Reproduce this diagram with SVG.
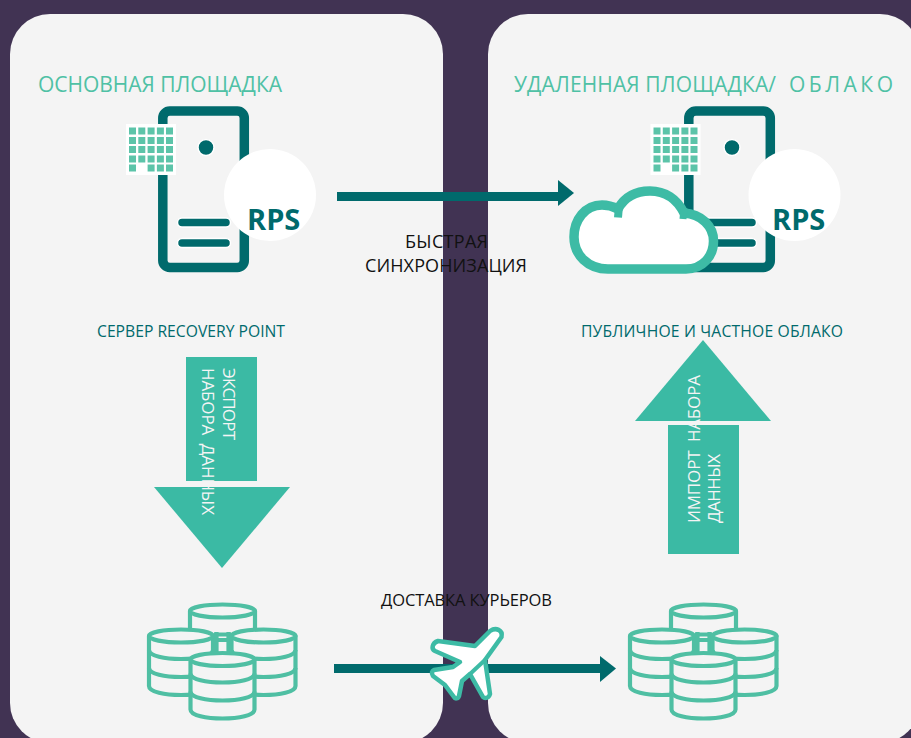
<svg xmlns="http://www.w3.org/2000/svg" width="911" height="738" viewBox="0 0 911 738">
<style>
text{font-family:"Open Sans","Noto Sans","Liberation Sans",sans-serif;white-space:pre}
.panel{fill:#f4f4f4}
.head{font-size:21px;fill:#4fc1a5}
.cap{font-size:15.7px;fill:#006a6c}
.lbl{font-size:18px;fill:#111}
.lbl2{font-size:16.5px;fill:#111}
.in{font-size:17px;fill:#f4f4f4}
.rps{font-size:29px;font-weight:700;fill:#006a6c}
.srv{fill:none;stroke:#006a6c;stroke-width:9.5}
.bar{fill:#006a6c;stroke:#fff;stroke-width:1.5}
.db{fill:#f4f4f4;stroke:#4fbfa3;stroke-width:4.2;stroke-linejoin:round}
.band{fill:none;stroke:#4fbfa3;stroke-width:4.2}
.grid{fill:#5cc4a9}
.big{fill:#3bbaa4}
.line{fill:none;stroke:#006a6c;stroke-width:9}
.head2{fill:#006a6c}
</style>
<defs>
<g id="server">
<rect class="srv" x="162.800" y="111" width="81.500" height="156.500" rx="7"/>
<circle cx="206" cy="147.500" r="8" fill="#006a6c" stroke="#fff" stroke-width="1.500"/>
<rect class="bar" x="177.500" y="218" width="53" height="9" rx="4.500"/>
<rect class="bar" x="177.500" y="238.500" width="53" height="9" rx="4.500"/>
</g>
<g id="badge">
<rect x="126" y="124" width="50" height="51" fill="#fff"/>
<g class="grid">
<rect x="129" y="127.500" width="7" height="7"/><rect x="138.300" y="127.500" width="7" height="7"/><rect x="147.600" y="127.500" width="7" height="7"/><rect x="156.900" y="127.500" width="7" height="7"/><rect x="166" y="127.500" width="7" height="7"/>
<rect x="129" y="137" width="7" height="7"/><rect x="138.300" y="137" width="7" height="7"/><rect x="147.600" y="137" width="7" height="7"/><rect x="156.900" y="137" width="7" height="7"/><rect x="166" y="137" width="7" height="7"/>
<rect x="129" y="146" width="7" height="7"/><rect x="138.300" y="146" width="7" height="7"/><rect x="147.600" y="146" width="7" height="7"/><rect x="156.900" y="146" width="7" height="7"/><rect x="166" y="146" width="7" height="7"/>
<rect x="129" y="155.500" width="7" height="7"/><rect x="138.300" y="155.500" width="7" height="7"/><rect x="147.600" y="155.500" width="7" height="7"/><rect x="156.900" y="155.500" width="7" height="7"/><rect x="166" y="155.500" width="7" height="7"/>
<rect x="129" y="164.500" width="7" height="7"/><rect x="147.600" y="164.500" width="7" height="7"/><rect x="156.900" y="164.500" width="7" height="7"/><rect x="166" y="164.500" width="7" height="7"/>
</g>
<circle cx="270" cy="195" r="46" fill="#fff"/>
</g>
<g id="cyl">
<path class="db" d="M-32 0V50C-32 56 -16 59 0 59S32 56 32 50V0Z"/>
<path class="band" d="M-32 14C-32 20 -16 23 0 23S32 20 32 14"/>
<path class="band" d="M-32 32C-32 38 -16 41 0 41S32 38 32 32"/>
<ellipse class="db" cx="0" cy="0" rx="32" ry="6.500"/>
</g>
<g id="dbs">
<path class="db" d="M190 611V640H255V611Z"/>
<ellipse class="db" cx="222.500" cy="611" rx="32.500" ry="6.500"/>
<path class="band" d="M216.500 632V654M228.500 632V654M214 634.500H231"/>
<use href="#cyl" x="181" y="636"/>
<use href="#cyl" x="263.500" y="636"/>
<use href="#cyl" x="222.500" y="659.500"/>
</g>
</defs>
<rect width="911" height="738" fill="#413353"/>
<g id="panels">
<rect class="panel" x="10" y="14" width="433" height="729" rx="40"/>
<rect class="panel" x="488" y="14" width="432" height="729" rx="40"/>
</g>
<g id="connectors">
<path class="line" d="M337 196.500H559"/>
<path class="head2" d="M558 180L574 193L558 206Z"/>
<path class="line" d="M334 668.500H601"/>
<path class="head2" d="M600 656L616 668.500L600 682Z"/>
</g>
<g id="site-main">
<text class="head" x="38" y="92" textLength="244">ОСНОВНАЯ ПЛОЩАДКА</text>
</g>
<g id="site-remote">
<text class="head" x="514" y="92" textLength="262">УДАЛЕННАЯ ПЛОЩАДКА/</text>
<text class="head" x="789" y="92" textLength="104">О Б Л А К О</text>
</g>
<g id="rps-main">
<use href="#server"/>
<use href="#badge"/>
<text class="rps" x="247" y="230">RPS</text>
<text class="cap" x="97" y="337" textLength="188">СЕРВЕР RECOVERY POINT</text>
</g>
<g id="rps-remote">
<use href="#server" x="526"/>
<use href="#badge" x="524.500"/>
<text class="rps" x="772" y="230">RPS</text>
</g>
<g id="cloud">
<path d="M608 269H686C703 269 713.500 256 713.500 241C713.500 226 701 214 684 213C677 199 665 191 650 191C635 191 624 198 618 209C612 206 607 205 602 205C585 205 574 220 574 237C574 255 588 269 608 269Z" fill="#fff" stroke="#3dbba5" stroke-width="9.500" stroke-linejoin="round"/>
<path d="M619 206L618 217.500" fill="none" stroke="#3dbba5" stroke-width="8"/>
<path d="M684 208L683 219" fill="none" stroke="#3dbba5" stroke-width="7"/>
<text class="cap" x="581" y="337" textLength="262">ПУБЛИЧНОЕ И ЧАСТНОЕ ОБЛАКО</text>
</g>
<g id="sync-label">
<text class="lbl" x="405" y="248" textLength="83">БЫСТРАЯ</text>
<text class="lbl" x="365" y="272" textLength="162">СИНХРОНИЗАЦИЯ</text>
</g>
<g id="export">
<rect class="big" x="186" y="357" width="71" height="124"/>
<path class="big" d="M154 487H290L222 568Z"/>
<text class="in" transform="translate(223,368) rotate(90)" textLength="72">ЭКСПОРТ</text>
<text class="in" transform="translate(202,368) rotate(90)" textLength="147">НАБОРА  ДАННЫХ</text>
</g>
<g id="import">
<rect class="big" x="668" y="425" width="71" height="129"/>
<path class="big" d="M635 421H771L703 340Z"/>
<text class="in" transform="translate(700,523) rotate(-90)" textLength="148">ИМПОРТ  НАБОРА</text>
<text class="in" transform="translate(720,523) rotate(-90)" textLength="69">ДАННЫХ</text>
</g>
<g id="db-main"><use href="#dbs"/></g>
<g id="db-remote"><use href="#dbs" x="481"/></g>
<g id="courier">
<text class="lbl2" x="381" y="606" textLength="171">ДОСТАВКА КУРЬЕРОВ</text>
<path d="M490 631C496 627 503 630 501.500 637L485 660L490 694C489 698 485 699 483 697L470 674L462 681L459 696C458 699 455 699 454 697L445 685L433 676C431 673 432 671 434 670L453 667L460 662L435 651C431 649 432 643 438 641L475 646Z" fill="#fff" stroke="#3dbba5" stroke-width="4.500" stroke-linejoin="round"/>
<path d="M485 660L470 674" fill="none" stroke="#3dbba5" stroke-width="4"/>
</g>
</svg>
